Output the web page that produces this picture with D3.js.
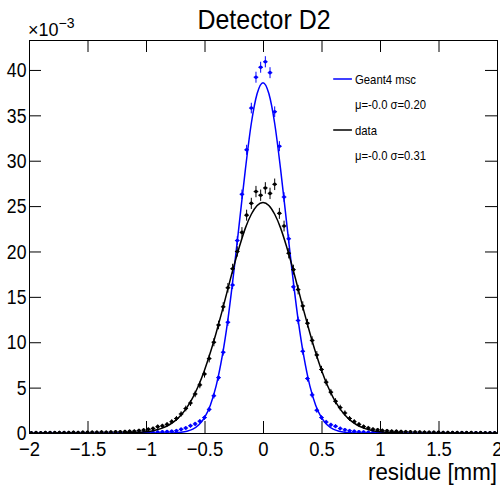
<!DOCTYPE html>
<html>
<head>
<meta charset="utf-8">
<script src="https://cdn.jsdelivr.net/npm/d3@7"></script>
<style>
body{margin:0;background:#fff}
svg{display:block}
text{font-family:"Liberation Sans",Arial,sans-serif;fill:#000}
</style>
</head>
<body>
<svg id="chart" width="500" height="488"></svg>
<script>
// histogram: 100 bins of 0.04 mm between -2 and 2, values in units of 1e-3
const binLo = -2, binW = 0.04;

const g4Counts = [
  0,0,0,0,0.02,0,0,0.02,0,0.02,0,0.02,0.02,0,0.03,0.02,0.03,0.02,0.04,0.03,
  0.04,0.05,0.04,0.06,0.05,0.07,0.08,0.1,0.12,0.15,
  0.18,0.25,0.4,0.55,0.8,1.0,1.3,1.7,2.6,4.1,
  6.1,8.9,12.2,16.3,21.2,26.3,31.2,35.8,39.2,40.3,
  40.9,39.7,35.4,31.6,26.0,21.4,16.1,12.4,9.0,6.0,
  4.2,2.5,1.7,1.2,0.9,0.75,0.5,0.35,0.25,0.18,
  0.12,0.1,0.08,0.07,0.05,0.05,0.04,0.03,0.03,0.02,
  0.03,0.02,0.02,0.01,0.02,0.01,0.01,0.02,0.01,0,0.01,0,0.01,0,0,0.01,0,0,0,0
];
const g4Errors = [
  0,0,0,0,0.01,0,0,0.01,0,0.01,0,0.01,0.01,0,0.01,0.01,0.01,0.01,0.01,0.01,
  0.01,0.02,0.01,0.02,0.02,0.02,0.02,0.02,0.02,0.03,
  0.03,0.04,0.04,0.05,0.06,0.07,0.08,0.09,0.11,0.14,
  0.17,0.21,0.24,0.28,0.32,0.36,0.39,0.42,0.44,0.44,
  0.45,0.44,0.42,0.39,0.36,0.32,0.28,0.25,0.21,0.17,
  0.14,0.11,0.09,0.08,0.07,0.06,0.05,0.04,0.04,0.03,
  0.02,0.02,0.02,0.02,0.02,0.02,0.01,0.01,0.01,0.01,
  0.01,0.01,0.01,0.01,0.01,0.01,0.01,0.01,0.01,0,0.01,0,0.01,0,0,0.01,0,0,0,0
];

const dataCounts = [
  0.03,0.04,0.03,0.05,0.04,0.04,0.06,0.05,0.06,0.07,0.06,0.08,0.07,0.09,0.08,0.1,0.09,0.11,0.12,0.13,
  0.15,0.18,0.2,0.26,0.32,0.4,0.5,0.7,0.78,0.95,
  1.25,1.6,2.1,2.7,3.3,4.3,5.3,6.5,8.2,10.0,
  11.9,13.9,16.0,18.1,20.0,22.1,24.0,25.3,26.6,26.2,
  27.0,26.4,27.4,24.2,22.8,19.8,18.0,15.8,14.0,12.1,
  10.2,8.6,7.0,5.6,4.5,3.5,2.8,2.2,1.6,1.25,
  0.95,0.7,0.55,0.42,0.34,0.28,
  0.24,0.2,0.18,0.16,0.14,0.12,0.11,0.1,0.09,0.08,0.08,0.07,0.06,0.06,0.05,0.05,0.04,0.04,0.05,0.03,0.04,0.03,0.03,0.03
];
const dataErrors = [
  0.02,0.02,0.02,0.02,0.02,0.02,0.02,0.02,0.02,0.02,0.02,0.03,0.02,0.03,0.03,0.03,0.03,0.03,0.03,0.03,
  0.035,0.04,0.04,0.045,0.05,0.057,0.064,0.075,0.08,0.09,
  0.1,0.11,0.13,0.15,0.16,0.19,0.21,0.23,0.26,0.28,
  0.31,0.34,0.36,0.38,0.4,0.42,0.44,0.45,0.46,0.46,
  0.47,0.46,0.47,0.44,0.43,0.4,0.38,0.36,0.34,0.31,
  0.29,0.26,0.24,0.21,0.19,0.17,0.15,0.13,0.11,0.1,
  0.09,0.075,0.067,0.058,0.052,0.048,
  0.044,0.04,0.038,0.036,0.034,0.031,0.03,0.028,0.027,0.025,0.025,0.024,0.022,0.022,0.02,0.02,0.018,0.018,0.02,0.016,0.018,0.016,0.016,0.016
];

// fitted curves sampled every 0.05 mm from -1.2 to 1.2
const fitX = d3.range(49).map(i => -1.2 + i * 0.05);
const g4Fit = [
  0,0,0,0,0,0,0,0.01,0.013,0.034,0.085,0.2,0.43,0.88,1.7,3.07,5.22,8.35,12.5,17.7,23.4,29.1,34.1,37.4,
  38.6,
  37.4,34.1,29.1,23.4,17.7,12.5,8.35,5.22,3.07,1.7,0.88,0.43,0.2,0.085,0.034,0.013,0.01,0,0,0,0,0,0,0
];
const dataFit = [
  0.014,0.026,0.047,0.082,0.14,0.23,0.376,0.59,0.91,1.36,1.98,2.82,3.9,5.26,6.92,8.86,11.05,13.4,15.9,18.35,20.6,22.6,24.1,25.07,
  25.4,
  25.07,24.1,22.6,20.6,18.35,15.9,13.4,11.05,8.86,6.92,5.26,3.9,2.82,1.98,1.36,0.91,0.59,0.376,0.23,0.14,0.082,0.047,0.026,0.014
];

const xMajor = [-2, -1.5, -1, -0.5, 0, 0.5, 1, 1.5, 2];
const yMajor = [0, 5, 10, 15, 20, 25, 30, 35, 40];

const series = [
  {name: "Geant4 msc", stats: "\u03bc=-0.0 \u03c3=0.20", color: "#0000ff", counts: g4Counts, errors: g4Errors, fit: g4Fit},
  {name: "data", stats: "\u03bc=-0.0 \u03c3=0.31", color: "#000000", counts: dataCounts, errors: dataErrors, fit: dataFit}
];

const svg = d3.select("#chart");
const frame = {left: 29, right: 497, top: 40, bottom: 433};

const x = d3.scaleLinear().domain([-2, 2]).range([frame.left, frame.right]);
const y = d3.scaleLinear().domain([0, 43.3]).range([frame.bottom, frame.top]);

const fmt = d3.format("");
const xMinor = d3.range(-2, 2.001, 0.1).map(v => Math.round(v * 10) / 10);
const yMinor = d3.range(0, 44, 1);

// axes, ticks pointing inward on all four sides
const axBottom = svg.append("g").attr("transform", `translate(0,${frame.bottom})`);
axBottom.call(d3.axisBottom(x).tickValues(xMinor).tickSize(-6).tickFormat(""));
axBottom.call(d3.axisBottom(x).tickValues(xMajor).tickSize(-12).tickPadding(8).tickFormat(fmt));

const axTop = svg.append("g").attr("transform", `translate(0,${frame.top})`);
axTop.call(d3.axisTop(x).tickValues(xMinor).tickSize(-6).tickFormat(""));
axTop.call(d3.axisTop(x).tickValues(xMajor).tickSize(-12).tickFormat(""));

const axLeft = svg.append("g").attr("transform", `translate(${frame.left},0)`);
axLeft.call(d3.axisLeft(y).tickValues(yMinor).tickSize(-6).tickFormat(""));
axLeft.call(d3.axisLeft(y).tickValues(yMajor).tickSize(-12).tickPadding(3).tickFormat(fmt));

const axRight = svg.append("g").attr("transform", `translate(${frame.right},0)`);
axRight.call(d3.axisRight(y).tickValues(yMinor).tickSize(-6).tickFormat(""));
axRight.call(d3.axisRight(y).tickValues(yMajor).tickSize(-12).tickFormat(""));

svg.selectAll(".domain").attr("stroke", "#000").attr("stroke-width", 1);
svg.selectAll(".tick line").attr("stroke", "#000").attr("stroke-width", 1);
svg.selectAll(".tick text")
   .attr("font-size", 21)
   .attr("font-family", "Liberation Sans, Arial, sans-serif")
   .attr("fill", "#000");
axBottom.selectAll(".tick text").attr("transform", "scale(0.88,1)");
axLeft.selectAll(".tick text").attr("transform", "scale(0.84,1)");

svg.append("clipPath").attr("id", "clip")
   .append("rect")
   .attr("x", frame.left).attr("y", frame.top)
   .attr("width", frame.right - frame.left).attr("height", frame.bottom - frame.top);

const plot = svg.append("g").attr("clip-path", "url(#clip)");

const line = d3.line()
   .x((d, i) => x(fitX[i]))
   .y(d => y(d))
   .curve(d3.curveMonotoneX);

series.forEach(function(s){
    const pts = s.counts.map((v, i) => ({c: binLo + binW * (i + 0.5), v: v, e: s.errors[i]}));
    const gs = plot.append("g").attr("stroke", s.color).attr("fill", s.color);

    gs.selectAll(".ex").data(pts).enter().append("line")
       .attr("x1", d => x(d.c - binW / 2)).attr("x2", d => x(d.c + binW / 2))
       .attr("y1", d => y(d.v)).attr("y2", d => y(d.v))
       .attr("stroke-width", 1);
    gs.selectAll(".ey").data(pts).enter().append("line")
       .attr("x1", d => x(d.c)).attr("x2", d => x(d.c))
       .attr("y1", d => y(d.v - d.e) + 1.5).attr("y2", d => y(d.v + d.e) - 1.5)
       .attr("stroke-width", 1);
    gs.selectAll(".dot").data(pts).enter().append("circle")
       .attr("cx", d => x(d.c)).attr("cy", d => y(d.v))
       .attr("r", 1.8).attr("stroke", "none");

    plot.append("path")
       .datum(s.fit)
       .attr("fill", "none")
       .attr("stroke", s.color)
       .attr("stroke-width", 1.5)
       .attr("d", line);
});

// title and axis title
svg.append("text")
   .attr("x", 264).attr("y", 29)
   .attr("text-anchor", "middle")
   .attr("font-size", 28)
   .attr("textLength", 133).attr("lengthAdjust", "spacingAndGlyphs")
   .text("Detector D2");

svg.append("text")
   .attr("x", 497).attr("y", 480)
   .attr("text-anchor", "end")
   .attr("font-size", 24)
   .attr("textLength", 129).attr("lengthAdjust", "spacingAndGlyphs")
   .text("residue [mm]");

const expo = svg.append("text").attr("x", 28).attr("y", 36).attr("font-size", 18);
expo.append("tspan").text("\u00d710");
expo.append("tspan").attr("font-size", 14).attr("dy", -8).text("\u22123");

// legend
const legend = svg.append("g");
series.forEach(function(s, i){
    const ly = 79 + i * 51;
    legend.append("line")
       .attr("x1", x(0.6)).attr("x2", x(0.76))
       .attr("y1", ly).attr("y2", ly)
       .attr("stroke", s.color).attr("stroke-width", 1.5);
    legend.append("text")
       .attr("x", 355).attr("y", ly + 5)
       .attr("font-size", 13)
       .attr("textLength", i === 0 ? 61 : 22).attr("lengthAdjust", "spacingAndGlyphs")
       .text(s.name);
    legend.append("text")
       .attr("x", 355).attr("y", ly + 30)
       .attr("font-size", 13)
       .attr("textLength", 71).attr("lengthAdjust", "spacingAndGlyphs")
       .text(s.stats);
});
</script>
</body>
</html>
